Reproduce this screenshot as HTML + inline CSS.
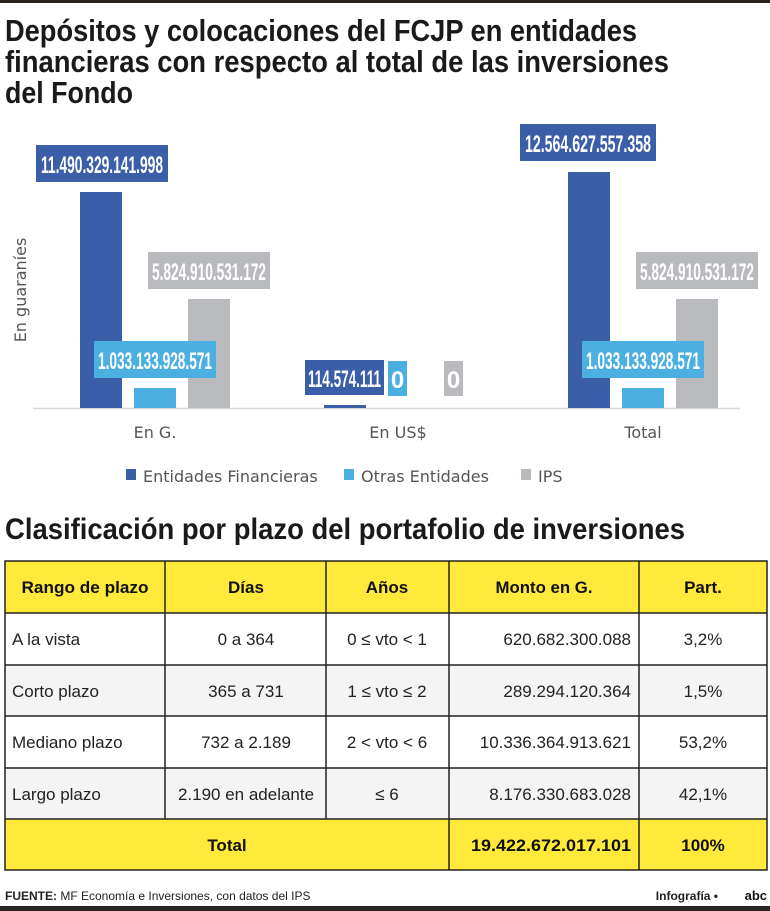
<!DOCTYPE html>
<html><head><meta charset="utf-8"><style>
html,body{margin:0;padding:0;background:#fff}
svg{display:block}
.t{font-family:"Liberation Sans",sans-serif;font-weight:bold;fill:#1a1a1a}
.v{font-family:"Liberation Sans",sans-serif;font-weight:bold;fill:#fff}
.c{font-family:"DejaVu Sans",sans-serif;fill:#555}
.tb{font-family:"Liberation Sans",sans-serif;fill:#222;font-size:17px}
.th{font-family:"Liberation Sans",sans-serif;font-weight:bold;fill:#111;font-size:17px}
</style></head><body>
<svg width="770" height="911" viewBox="0 0 770 911" xmlns="http://www.w3.org/2000/svg">
<rect x="0" y="0" width="770" height="3" fill="#2a2420"/>
<text class="t" x="5" y="41" font-size="31" textLength="632" lengthAdjust="spacingAndGlyphs">Depósitos y colocaciones del FCJP en entidades</text>
<text class="t" x="5" y="72" font-size="31" textLength="664" lengthAdjust="spacingAndGlyphs">financieras con respecto al total de las inversiones</text>
<text class="t" x="5" y="103" font-size="31" textLength="128" lengthAdjust="spacingAndGlyphs">del Fondo</text>

<line x1="33" y1="408.5" x2="740" y2="408.5" stroke="#d8d8d8" stroke-width="1.5"/>
<rect x="80" y="192" width="42" height="216" fill="#3a5ea8"/>
<rect x="134" y="388" width="42" height="20" fill="#4bafe2"/>
<rect x="188" y="299" width="42" height="109" fill="#b9babe"/>
<rect x="324" y="405" width="42" height="3" fill="#3a5ea8"/>
<rect x="568" y="172" width="42" height="236" fill="#3a5ea8"/>
<rect x="622" y="388" width="42" height="20" fill="#4bafe2"/>
<rect x="676" y="299" width="42" height="109" fill="#b9babe"/>

<rect x="36" y="145" width="132" height="37" fill="#3a5ea8"/>
<text class="v" x="102" y="173" font-size="24" text-anchor="middle" textLength="122" lengthAdjust="spacingAndGlyphs">11.490.329.141.998</text>
<rect x="520" y="124" width="136" height="37" fill="#3a5ea8"/>
<text class="v" x="588" y="152" font-size="24" text-anchor="middle" textLength="126" lengthAdjust="spacingAndGlyphs">12.564.627.557.358</text>
<rect x="148" y="252" width="122" height="37" fill="#b9babe"/>
<text class="v" x="209" y="280" font-size="24" text-anchor="middle" textLength="114" lengthAdjust="spacingAndGlyphs">5.824.910.531.172</text>
<rect x="636" y="252" width="122" height="37" fill="#b9babe"/>
<text class="v" x="697" y="280" font-size="24" text-anchor="middle" textLength="114" lengthAdjust="spacingAndGlyphs">5.824.910.531.172</text>
<rect x="94" y="341" width="122" height="37" fill="#4bafe2"/>
<text class="v" x="155" y="369" font-size="24" text-anchor="middle" textLength="114" lengthAdjust="spacingAndGlyphs">1.033.133.928.571</text>
<rect x="582" y="341" width="122" height="37" fill="#4bafe2"/>
<text class="v" x="643" y="369" font-size="24" text-anchor="middle" textLength="114" lengthAdjust="spacingAndGlyphs">1.033.133.928.571</text>
<rect x="305" y="360" width="79" height="35" fill="#3a5ea8"/>
<text class="v" x="344.5" y="387" font-size="24" text-anchor="middle" textLength="73" lengthAdjust="spacingAndGlyphs">114.574.111</text>
<rect x="388" y="361" width="19" height="35" fill="#4bafe2"/>
<text class="v" x="397.5" y="388" font-size="24" text-anchor="middle">0</text>
<rect x="444" y="361" width="19" height="35" fill="#b9babe"/>
<text class="v" x="453.5" y="388" font-size="24" text-anchor="middle">0</text>

<text class="c" x="0" y="0" font-size="16" text-anchor="middle" transform="translate(26,290) rotate(-90)">En guaraníes</text>
<text class="c" x="155" y="438" font-size="16" text-anchor="middle">En G.</text>
<text class="c" x="398" y="438" font-size="16" text-anchor="middle">En US$</text>
<text class="c" x="643" y="438" font-size="16" text-anchor="middle">Total</text>
<rect x="126" y="469" width="10" height="11" fill="#3a5ea8"/>
<text class="c" x="143" y="482" font-size="16">Entidades Financieras</text>
<rect x="344" y="469" width="10" height="11" fill="#4bafe2"/>
<text class="c" x="361" y="482" font-size="16">Otras Entidades</text>
<rect x="521" y="469" width="10" height="11" fill="#b9babe"/>
<text class="c" x="538" y="482" font-size="16">IPS</text>

<text class="t" x="5" y="539" font-size="30" textLength="680" lengthAdjust="spacingAndGlyphs">Clasificación por plazo del portafolio de inversiones</text>

<rect x="5" y="561" width="762" height="52" fill="#ffe93b"/>
<rect x="5" y="665" width="762" height="51" fill="#f4f4f4"/>
<rect x="5" y="768" width="762" height="51" fill="#f4f4f4"/>
<rect x="5" y="819" width="762" height="51" fill="#ffe93b"/>
<g stroke="#222" stroke-width="1.5" fill="none">
<rect x="5" y="561" width="762" height="309"/>
<line x1="5" y1="613" x2="767" y2="613"/>
<line x1="5" y1="665" x2="767" y2="665"/>
<line x1="5" y1="716" x2="767" y2="716"/>
<line x1="5" y1="768" x2="767" y2="768"/>
<line x1="5" y1="819" x2="767" y2="819"/>
<line x1="165" y1="561" x2="165" y2="819"/>
<line x1="326" y1="561" x2="326" y2="819"/>
<line x1="449" y1="561" x2="449" y2="870"/>
<line x1="639" y1="561" x2="639" y2="870"/>
</g>
<g class="th" text-anchor="middle">
<text x="85" y="593" textLength="127" lengthAdjust="spacingAndGlyphs">Rango de plazo</text>
<text x="246" y="593">Días</text>
<text x="387" y="593">Años</text>
<text x="544" y="593" textLength="97" lengthAdjust="spacingAndGlyphs">Monto en G.</text>
<text x="703" y="593">Part.</text>
<text x="227" y="851">Total</text>
<text x="551" y="851" textLength="160" lengthAdjust="spacingAndGlyphs">19.422.672.017.101</text>
<text x="703" y="851">100%</text>
</g>
<g class="tb">
<text x="12" y="645">A la vista</text>
<text x="12" y="697">Corto plazo</text>
<text x="12" y="748">Mediano plazo</text>
<text x="12" y="800">Largo plazo</text>
<g text-anchor="middle">
<text x="246" y="645">0 a 364</text>
<text x="246" y="697">365 a 731</text>
<text x="246" y="748">732 a 2.189</text>
<text x="246" y="800">2.190 en adelante</text>
<text x="387" y="645">0 ≤ vto &lt; 1</text>
<text x="387" y="697">1 ≤ vto ≤ 2</text>
<text x="387" y="748">2 &lt; vto &lt; 6</text>
<text x="387" y="800">≤ 6</text>
<text x="703" y="645">3,2%</text>
<text x="703" y="697">1,5%</text>
<text x="703" y="748">53,2%</text>
<text x="703" y="800">42,1%</text>
</g>
<g text-anchor="end">
<text x="631" y="645">620.682.300.088</text>
<text x="631" y="697">289.294.120.364</text>
<text x="631" y="748">10.336.364.913.621</text>
<text x="631" y="800">8.176.330.683.028</text>
</g>
</g>

<text x="5" y="900" font-family="Liberation Sans,sans-serif" font-size="12" fill="#222"><tspan font-weight="bold">FUENTE:</tspan> MF Economía e Inversiones, con datos del IPS</text>
<text x="718" y="900" font-family="Liberation Sans,sans-serif" font-size="12" font-weight="bold" fill="#222" text-anchor="end">Infografía •</text>
<text x="767" y="900" font-family="Liberation Sans,sans-serif" font-size="13" font-weight="bold" fill="#111" text-anchor="end">abc</text>
<rect x="0" y="906" width="770" height="5" fill="#2a2420"/>
</svg>
</body></html>
